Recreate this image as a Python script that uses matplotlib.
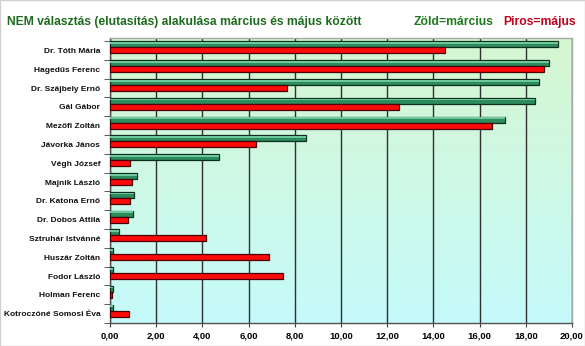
import numpy as np
import matplotlib
matplotlib.use("Agg")
import matplotlib.pyplot as plt
from matplotlib.colors import LinearSegmentedColormap
from matplotlib.patches import Rectangle

names = [
    "Dr. Tóth Mária", "Hagedűs Ferenc", "Dr. Szájbely Ernő", "Gál Gábor",
    "Mezőfi Zoltán", "Jávorka János", "Végh József", "Majnik László",
    "Dr. Katona Ernő", "Dr. Dobos Attila", "Sztruhár Istvánné", "Huszár Zoltán",
    "Fodor László", "Holman Ferenc", "Kotroczóné Somosi Éva",
]
marcius = [19.4, 19.0, 18.55, 18.4, 17.1, 8.5, 4.7, 1.15, 1.05, 1.0,
           0.4, 0.15, 0.12, 0.12, 0.12]
majus = [14.5, 18.8, 7.65, 12.5, 16.55, 6.3, 0.85, 0.95, 0.85, 0.8,
         4.17, 6.9, 7.5, 0.08, 0.83]
xticks = [0, 2, 4, 6, 8, 10, 12, 14, 16, 18, 20]
xlabels = ["0,00", "2,00", "4,00", "6,00", "8,00", "10,00", "12,00",
           "14,00", "16,00", "18,00", "20,00"]

W, H = 585, 346
fig = plt.figure(figsize=(W / 100, H / 100), dpi=100, facecolor="white")
fig.patches.append(Rectangle((0, 0), 1, 1, transform=fig.transFigure,
                             fill=False, edgecolor="#d0d0d0", lw=1.0))

left, right, top, bottom = 110, 572, 38, 323
ax = fig.add_axes([left / W, 1 - bottom / H, (right - left) / W, (bottom - top) / H])

# vertical gradient background: light green at top, light cyan at bottom
cmap = LinearSegmentedColormap.from_list("bg", ["#d6f6d0", "#c6fbfb"])
grad = np.linspace(0, 1, 256).reshape(-1, 1)
ax.imshow(grad, cmap=cmap, aspect="auto", extent=[0, 1, 0, 1],
          transform=ax.transAxes, zorder=0, origin="upper")

y = np.arange(len(names))
h = 0.32
green, green_hi, green_edge = "#2e8b5e", "#6cc89a", "#0c2e1c"
red, red_edge = "#ff0a0a", "#4a0000"

gy = y - 0.32
ry = y + 0.0
ax.barh(gy, marcius, height=h, color=green, edgecolor=green_edge,
        linewidth=0.9, zorder=3)
ax.barh(gy - h * 0.22, marcius, height=h * 0.3, color=green_hi,
        edgecolor="none", linewidth=0, zorder=4)
ax.barh(ry, majus, height=h, color=red, edgecolor=red_edge,
        linewidth=0.9, zorder=3)

ax.set_xlim(0, 20)
ax.set_ylim(14.5, -0.66)

ax.set_xticks(xticks)
ax.set_xticklabels(xlabels, fontsize=6.8, fontweight="bold",
                   family=["Liberation Sans", "DejaVu Sans"])
ax.set_yticks(y)
ax.set_yticklabels(names, fontsize=6.0, fontweight="bold",
                   family=["Liberation Sans", "DejaVu Sans"], color="#101010")
ax.set_yticks(np.arange(-0.5, len(names), 1.0), minor=True)
ax.tick_params(axis="y", which="major", length=0, pad=7)
ax.tick_params(axis="y", which="minor", length=4, color="#404040")
ax.tick_params(axis="x", length=3, color="#404040", pad=3)

ax.grid(axis="x", color="#303030", linewidth=1.0, zorder=1)
ax.set_axisbelow(True)
for s in ["left", "bottom"]:
    ax.spines[s].set_color("#505050")
    ax.spines[s].set_linewidth(1.0)
for s in ["top", "right"]:
    ax.spines[s].set_color("#a8a8a8")
    ax.spines[s].set_linewidth(1.0)

tfam = ["Liberation Sans Narrow", "Liberation Sans"]
ty = 1 - 22 / H
fig.text(7 / W, ty, "NEM választás (elutasítás) alakulása március és május között",
         fontsize=8.75, fontweight="bold", color="#1e6b1e", va="center", ha="left",
         family=tfam)
fig.text(414 / W, ty, "Zöld=március", fontsize=8.75, fontweight="bold",
         color="#1e7a1e", va="center", ha="left", family=tfam)
fig.text(576 / W, ty, "Piros=május", fontsize=8.75, fontweight="bold",
         color="#c0001a", va="center", ha="right", family=tfam)

fig.savefig("out.png", dpi=100, facecolor="white")
